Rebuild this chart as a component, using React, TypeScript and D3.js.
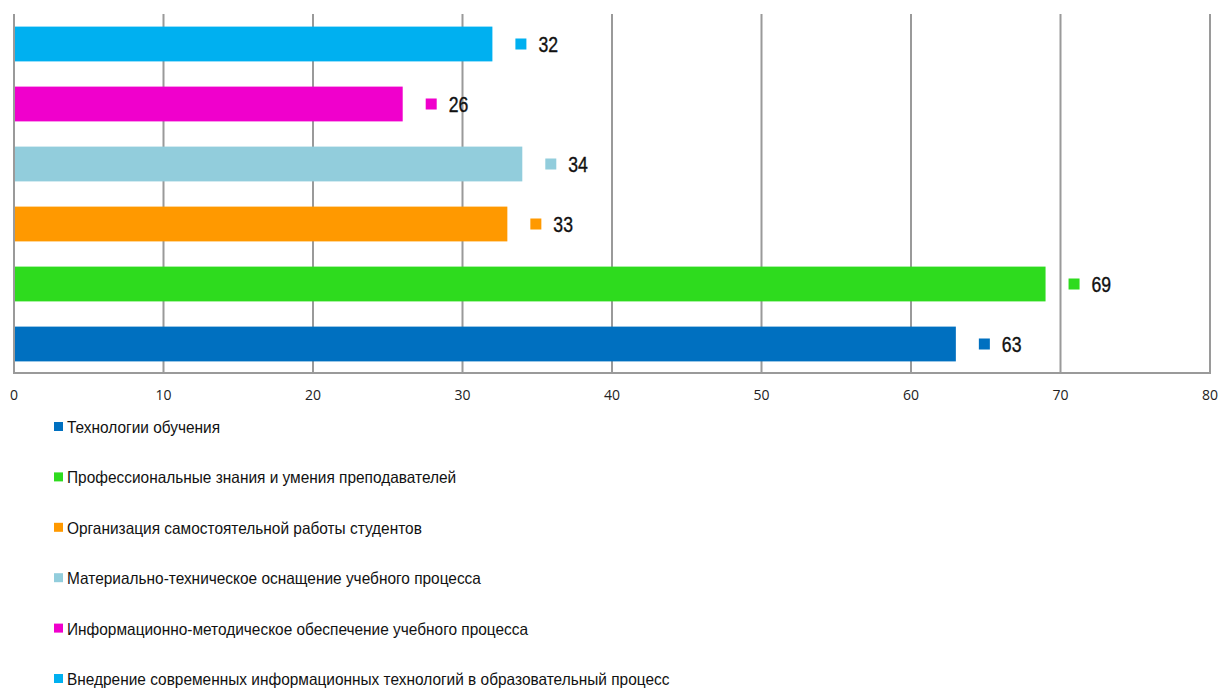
import React from "react";
import * as d3 from "d3";

const categories = [
  "Технологии обучения",
  "Профессиональные знания и умения преподавателей",
  "Организация самостоятельной работы студентов",
  "Материально-техническое оснащение учебного процесса",
  "Информационно-методическое обеспечение учебного процесса",
  "Внедрение современных информационных технологий в образовательный процесс",
];
const values = [63, 69, 33, 34, 26, 32];
const colors = ["#0070C0", "#2EDB1E", "#FF9900", "#92CDDC", "#F000CC", "#00B0F0"];
const ticks = [0, 10, 20, 30, 40, 50, 60, 70, 80];

const W = 1220;
const H = 689;
const plot = { left: 14, right: 1210, top: 14, bottom: 374 };

export default function App() {
  const x = d3.scaleLinear().domain([0, 80]).range([plot.left, plot.right]);
  const y = d3
    .scaleBand<number>()
    .domain(d3.range(categories.length).reverse())
    .range([plot.top, plot.bottom])
    .paddingInner(0.42)
    .paddingOuter(0.21);
  const sans = "'Liberation Sans', Arial, sans-serif";
  return (
    <svg
      width={W}
      height={H}
      style={{ position: "absolute", left: 0, top: 0, background: "#fff" }}
      viewBox={`0 0 ${W} ${H}`}
    >
      {ticks.map((t) => (
        <line
          key={"g" + t}
          x1={x(t)}
          x2={x(t)}
          y1={plot.top}
          y2={plot.bottom - 1}
          stroke="#9a9a9a"
          strokeWidth={2}
        />
      ))}
      <line x1={plot.left - 1} x2={plot.right + 1} y1={plot.bottom - 1} y2={plot.bottom - 1} stroke="#9a9a9a" strokeWidth={2} />
      {values.map((v, i) => {
        const yy = y(i)!;
        const bw = y.bandwidth();
        const xe = x(v);
        return (
          <g key={"b" + i}>
            <rect x={x(0) + 1} y={yy} width={xe - x(0) - 1} height={bw} fill={colors[i]} />
            <rect x={xe + 23} y={yy + bw / 2 - 5.5} width={11} height={11} fill={colors[i]} />
            <text
              transform={`translate(${xe + 46},${yy + bw / 2 + 8}) scale(0.8,1)`}
              fontFamily={sans}
              fontSize={22}
              fill="#111"
              stroke="#111"
              strokeWidth={0.4}
            >
              {v}
            </text>
          </g>
        );
      })}
      {ticks.map((t) => (
        <text
          key={"t" + t}
          x={x(t)}
          y={400}
          textAnchor="middle"
          fontFamily="'Open Sans', 'Liberation Sans', sans-serif"
          fontSize={14}
          fill="#222"
        >
          {t}
        </text>
      ))}
      {categories.map((c, i) => {
        const cy = 427 + i * 50.4;
        return (
          <g key={"l" + i}>
            <rect x={54} y={cy - 5} width={9} height={9} fill={colors[i]} />
            <text
              transform={`translate(67,${cy + 6}) scale(0.935,1)`}
              fontFamily={sans}
              fontSize={16.5}
              fill="#111"
            >
              {c}
            </text>
          </g>
        );
      })}
    </svg>
  );
}
